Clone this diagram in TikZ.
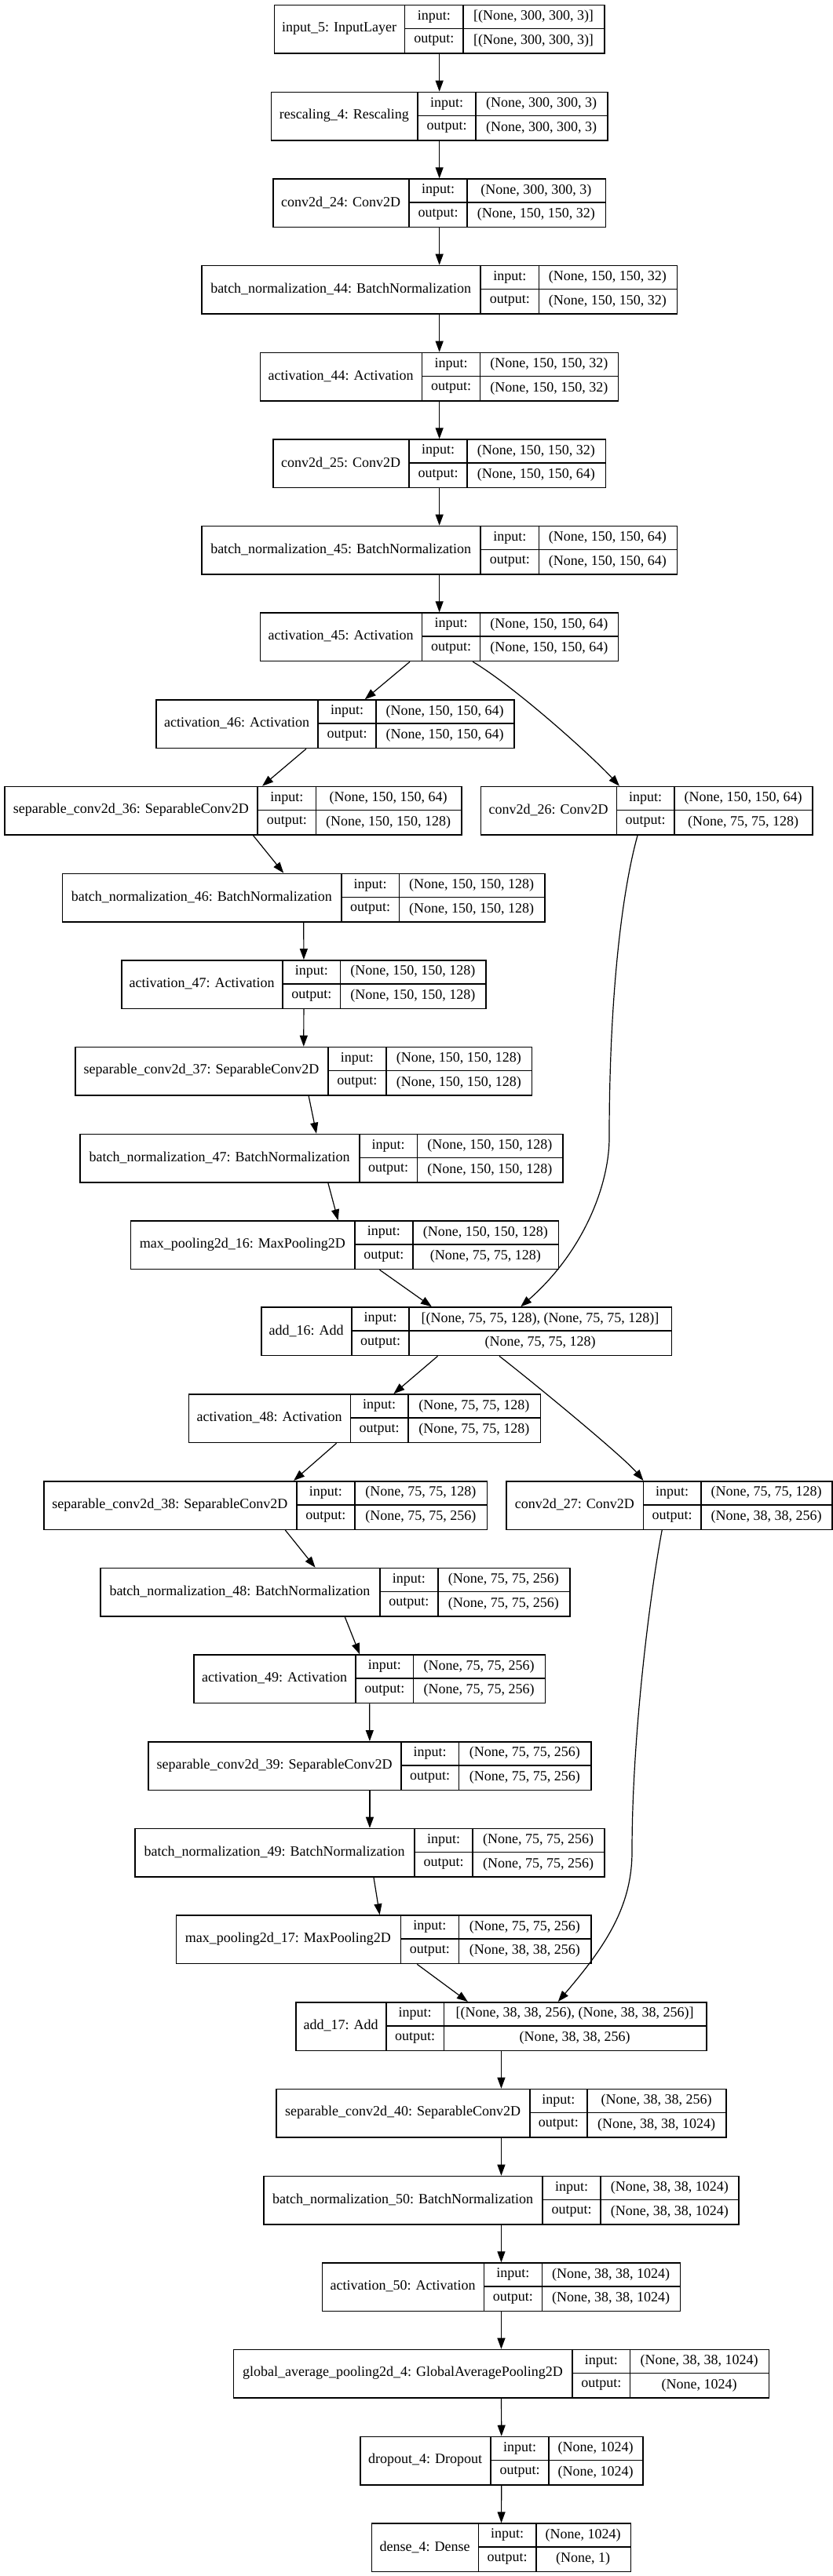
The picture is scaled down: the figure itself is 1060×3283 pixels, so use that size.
\documentclass[tikz,border=0pt]{standalone}
\usepackage{fontspec}
\setmainfont{Liberation Serif}
\usetikzlibrary{arrows.meta}

% one keras layer: name, top, x of the four vertical rules, label, input, output
\newcommand{\layer}[9]{%
  \node[box,minimum width={(#6-#3)*1pt},anchor=north west] (#1) at (#3,#2) {};
  \draw[rule] (#4,#2) -- (#4,#2+61.5) (#5,#2) -- (#5,#2+61.5) (#4,#2+30.75) -- (#6,#2+30.75);
  \node[txt] (#1-name) at ({(#3+#4)/2},#2+30.75) {#7};
  \node[txt] (#1-in) at ({(#4+#5)/2},#2+15.4) {input:};
  \node[txt] (#1-out) at ({(#4+#5)/2},#2+46.1) {output:};
  \node[txt] (#1-inval) at ({(#5+#6)/2},#2+15.4) {#8};
  \node[txt] (#1-outval) at ({(#5+#6)/2},#2+46.1) {#9};
}

\begin{document}
\begin{tikzpicture}[x=1pt,y=-1pt,>={Triangle[length=14pt,width=10pt]},
  box/.style={draw,line width=1.5pt,inner sep=0pt,minimum height=61.5pt},
  rule/.style={line width=1.5pt},
  txt/.style={inner sep=0pt,font=\fontsize{18}{21}\selectfont},
  edge/.style={->,line width=1.2pt}]
\useasboundingbox (0,0) rectangle (1060,3283);

\layer{inp5}{5.7}{348.6}{515.7}{589.8}{769.2}{input\_5: InputLayer}{[(None, 300, 300, 3)]}{[(None, 300, 300, 3)]}
\layer{resc4}{116.7}{344.5}{532.1}{606.1}{773.3}{rescaling\_4: Rescaling}{(None, 300, 300, 3)}{(None, 300, 300, 3)}
\layer{conv24}{227.3}{347.2}{521.2}{595.2}{770.6}{conv2d\_24: Conv2D}{(None, 300, 300, 3)}{(None, 150, 150, 32)}
\layer{bn44}{337.7}{256.2}{612.2}{686.3}{861.6}{batch\_normalization\_44: BatchNormalization}{(None, 150, 150, 32)}{(None, 150, 150, 32)}
\layer{act44}{448.7}{330.9}{537.5}{611.6}{786.9}{activation\_44: Activation}{(None, 150, 150, 32)}{(None, 150, 150, 32)}
\layer{conv25}{559.3}{347.2}{521.2}{595.2}{770.6}{conv2d\_25: Conv2D}{(None, 150, 150, 32)}{(None, 150, 150, 64)}
\layer{bn45}{669.7}{256.2}{612.2}{686.3}{861.6}{batch\_normalization\_45: BatchNormalization}{(None, 150, 150, 64)}{(None, 150, 150, 64)}
\layer{act45}{780.3}{330.9}{537.5}{611.6}{786.9}{activation\_45: Activation}{(None, 150, 150, 64)}{(None, 150, 150, 64)}
\layer{act46}{891.3}{198.4}{405.0}{479.0}{654.4}{activation\_46: Activation}{(None, 150, 150, 64)}{(None, 150, 150, 64)}
\layer{sep36}{1001.7}{5.4}{328.2}{402.3}{587.1}{separable\_conv2d\_36: SeparableConv2D}{(None, 150, 150, 64)}{(None, 150, 150, 128)}
\layer{conv26}{1001.7}{611.6}{785.5}{858.9}{1034.2}{conv2d\_26: Conv2D}{(None, 150, 150, 64)}{(None, 75, 75, 128)}
\layer{bn46}{1112.7}{78.8}{434.9}{508.3}{693.1}{batch\_normalization\_46: BatchNormalization}{(None, 150, 150, 128)}{(None, 150, 150, 128)}
\layer{act47}{1223.0}{154.2}{360.1}{433.5}{618.3}{activation\_47: Activation}{(None, 150, 150, 128)}{(None, 150, 150, 128)}
\layer{sep37}{1333.7}{95.1}{417.9}{492.0}{676.8}{separable\_conv2d\_37: SeparableConv2D}{(None, 150, 150, 128)}{(None, 150, 150, 128)}
\layer{bn47}{1444.7}{101.2}{458.0}{531.4}{716.2}{batch\_normalization\_47: BatchNormalization}{(None, 150, 150, 128)}{(None, 150, 150, 128)}
\layer{mp16}{1555.3}{165.8}{451.9}{525.9}{710.8}{max\_pooling2d\_16: MaxPooling2D}{(None, 150, 150, 128)}{(None, 75, 75, 128)}
\layer{add16}{1665.3}{332.3}{447.8}{521.2}{854.8}{add\_16: Add}{[(None, 75, 75, 128), (None, 75, 75, 128)]}{(None, 75, 75, 128)}
\layer{act48}{1776.3}{239.9}{446.4}{519.8}{687.7}{activation\_48: Activation}{(None, 75, 75, 128)}{(None, 75, 75, 128)}
\layer{sep38}{1887.0}{55.0}{377.8}{451.9}{619.7}{separable\_conv2d\_38: SeparableConv2D}{(None, 75, 75, 128)}{(None, 75, 75, 256)}
\layer{conv27}{1887.0}{644.2}{819.5}{892.9}{1059.3}{conv2d\_27: Conv2D}{(None, 75, 75, 128)}{(None, 38, 38, 256)}
\layer{bn48}{1997.7}{127.1}{483.8}{557.9}{725.0}{batch\_normalization\_48: BatchNormalization}{(None, 75, 75, 256)}{(None, 75, 75, 256)}
\layer{act49}{2108.3}{246.0}{453.2}{526.6}{693.8}{activation\_49: Activation}{(None, 75, 75, 256)}{(None, 75, 75, 256)}
\layer{sep39}{2219.0}{188.2}{511.0}{584.4}{752.2}{separable\_conv2d\_39: SeparableConv2D}{(None, 75, 75, 256)}{(None, 75, 75, 256)}
\layer{bn49}{2329.7}{171.2}{528.0}{602.0}{769.2}{batch\_normalization\_49: BatchNormalization}{(None, 75, 75, 256)}{(None, 75, 75, 256)}
\layer{mp17}{2440.3}{223.6}{510.3}{584.4}{752.2}{max\_pooling2d\_17: MaxPooling2D}{(None, 75, 75, 256)}{(None, 38, 38, 256)}
\layer{add17}{2551.0}{376.4}{492.0}{565.3}{899.0}{add\_17: Add}{[(None, 38, 38, 256), (None, 38, 38, 256)]}{(None, 38, 38, 256)}
\layer{sep40}{2661.7}{351.3}{674.8}{748.1}{924.1}{separable\_conv2d\_40: SeparableConv2D}{(None, 38, 38, 256)}{(None, 38, 38, 1024)}
\layer{bn50}{2772.7}{335.0}{691.1}{765.1}{940.4}{batch\_normalization\_50: BatchNormalization}{(None, 38, 38, 1024)}{(None, 38, 38, 1024)}
\layer{act50}{2883.3}{409.7}{616.3}{690.4}{865.7}{activation\_50: Activation}{(None, 38, 38, 1024)}{(None, 38, 38, 1024)}
\layer{gap4}{2993.7}{296.9}{729.1}{802.5}{978.5}{global\_average\_pooling2d\_4: GlobalAveragePooling2D}{(None, 38, 38, 1024)}{(None, 1024)}
\layer{drop4}{3104.7}{458.0}{625.1}{699.2}{818.1}{dropout\_4: Dropout}{(None, 1024)}{(None, 1024)}
\layer{dense4}{3215.3}{472.9}{609.5}{682.9}{802.5}{dense\_4: Dense}{(None, 1024)}{(None, 1)}

% straight edges
\draw[edge] (inp5) -- (resc4);
\draw[edge] (resc4) -- (conv24);
\draw[edge] (conv24) -- (bn44);
\draw[edge] (bn44) -- (act44);
\draw[edge] (act44) -- (conv25);
\draw[edge] (conv25) -- (bn45);
\draw[edge] (bn45) -- (act45);
\draw[edge] (act45) -- (act46);
\draw[edge] (act46) -- (sep36);
\draw[edge] (sep36) -- (bn46);
\draw[edge] (bn46) -- (act47);
\draw[edge] (act47) -- (sep37);
\draw[edge] (sep37) -- (bn47);
\draw[edge] (bn47) -- (mp16);
\draw[edge] (mp16) -- (add16);
\draw[edge] (add16) -- (act48);
\draw[edge] (act48) -- (sep38);
\draw[edge] (sep38) -- (bn48);
\draw[edge] (bn48) -- (act49);
\draw[edge] (act49) -- (sep39);
\draw[edge] (sep39) -- (bn49);
\draw[edge] (bn49) -- (mp17);
\draw[edge] (mp17) -- (add17);
\draw[edge] (add17) -- (sep40);
\draw[edge] (sep40) -- (bn50);
\draw[edge] (bn50) -- (act50);
\draw[edge] (act50) -- (gap4);
\draw[edge] (gap4) -- (drop4);
\draw[edge] (drop4) -- (dense4);

% shortcut branches
\coordinate (bend1) at (776,1450);
\coordinate (bend2) at (805,2360);
\draw[edge] ([xshift=42.5pt]act45.south) .. controls +(55,33) and +(-35,-38) .. ([xshift=-34.7pt]conv26.north);
\draw[edge] ([xshift=-11.6pt]conv26.south) .. controls +(-20,72) and +(0,-180) .. (bend1)
  .. controls +(0,60) and +(80,-70) .. ([xshift=68.9pt]add16.north);
\draw[edge] ([xshift=41.7pt]add16.south) .. controls +(45,35) and +(-25,-30) .. ([xshift=-33pt]conv27.north);
\draw[edge] ([xshift=-9.3pt]conv27.south) .. controls +(-15,80) and +(0,-150) .. (bend2)
  .. controls +(0,70) and +(60,-70) .. ([xshift=72.3pt]add17.north);
\end{tikzpicture}
\end{document}
